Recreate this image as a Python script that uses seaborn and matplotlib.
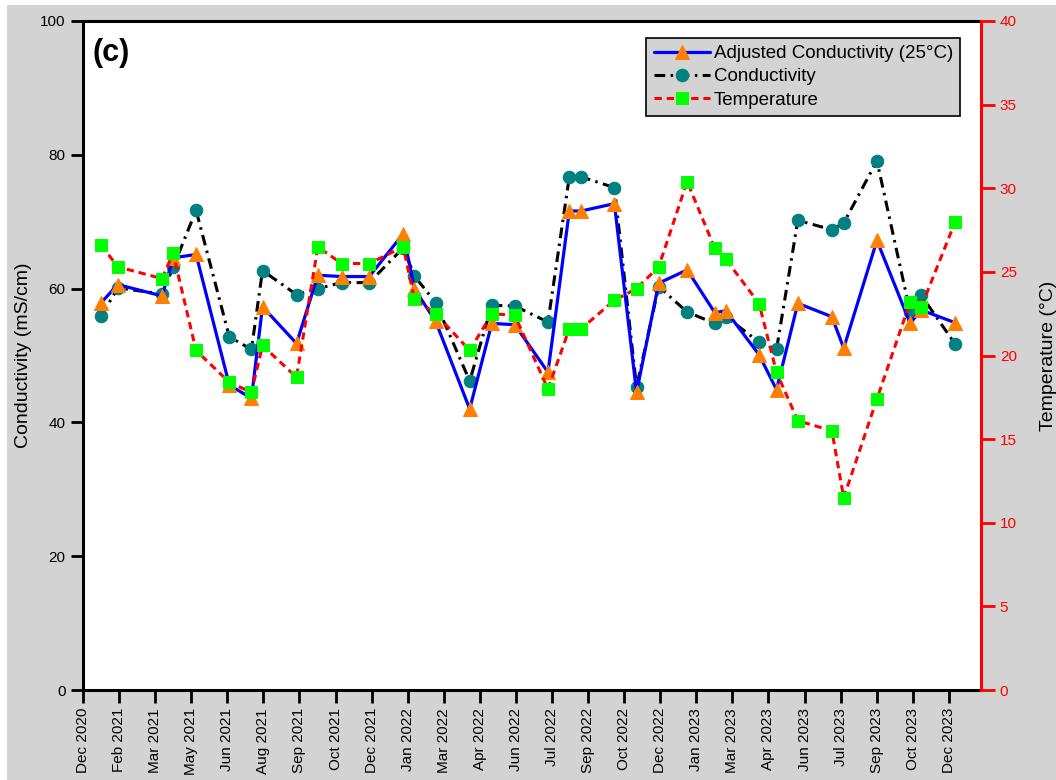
import numpy as np
import pandas as pd
import seaborn as sns
import matplotlib.pyplot as plt
import matplotlib.dates as mdates
from matplotlib.patches import Rectangle

# sampling dates
dates = ["2020-12-24", "2021-01-14", "2021-03-11", "2021-03-25", "2021-04-23", "2021-06-04",
         "2021-07-02", "2021-07-16", "2021-08-28", "2021-09-24", "2021-10-24", "2021-11-28",
         "2022-01-10", "2022-01-24", "2022-02-20", "2022-04-04", "2022-05-02", "2022-05-31",
         "2022-07-12", "2022-08-08", "2022-08-23", "2022-10-04", "2022-11-01", "2022-11-29",
         "2023-01-04", "2023-02-08", "2023-02-22", "2023-04-05", "2023-04-27", "2023-05-24",
         "2023-07-06", "2023-07-21", "2023-09-01", "2023-10-13", "2023-10-27", "2023-12-09"]

adj_cond = [57.9, 60.6, 58.9, 64.6, 65.1, 45.6, 43.6, 57.3, 51.8, 62.0, 61.8, 61.8,
            68.2, 60.0, 55.1, 42.0, 54.8, 54.6, 47.5, 71.6, 71.6, 72.7, 44.5, 60.8,
            62.8, 56.4, 56.7, 50.1, 44.9, 57.8, 55.8, 51.1, 67.2, 54.8, 56.8, 54.9]

cond = [55.9, 60.1, 59.2, 63.2, 71.7, 52.8, 50.9, 62.7, 59.1, 60.0, 60.9, 60.9,
        66.1, 61.9, 57.9, 46.2, 57.5, 57.4, 55.0, 76.7, 76.7, 75.1, 45.3, 60.3,
        56.5, 54.8, 55.8, 52.0, 50.9, 70.2, 68.8, 69.8, 79.1, 56.5, 59.0, 51.7]

temp = [26.6, 25.3, 24.6, 26.1, 20.3, 18.4, 17.8, 20.6, 18.7, 26.5, 25.5, 25.5,
        26.5, 23.4, 22.5, 20.3, 22.5, 22.4, 18.0, 21.6, 21.6, 23.3, 24.0, 25.3,
        30.4, 26.4, 25.75, 23.1, 19.0, 16.1, 15.5, 11.5, 17.4, 23.2, 22.9, 28.0]

tick_labels = ["Dec 2020", "Feb 2021", "Mar 2021", "May 2021", "Jun 2021", "Aug 2021",
               "Sep 2021", "Oct 2021", "Dec 2021", "Jan 2022", "Mar 2022", "Apr 2022",
               "Jun 2022", "Jul 2022", "Sep 2022", "Oct 2022", "Dec 2022", "Jan 2023",
               "Mar 2023", "Apr 2023", "Jun 2023", "Jul 2023", "Sep 2023", "Oct 2023",
               "Dec 2023"]

df = pd.DataFrame({"date": pd.to_datetime(dates), "adj": adj_cond, "cond": cond, "temp": temp})

sns.set_theme(style="ticks", rc={"text.color": "black", "axes.labelcolor": "black",
                                 "xtick.color": "black", "ytick.color": "black"})
plt.rcParams["font.family"] = ["Liberation Sans", "DejaVu Sans"]

fig = plt.figure(figsize=(10.56, 7.8), dpi=100, facecolor="white")
fig.patches.append(Rectangle((7 / 1056, 0), 1, 1 - 5 / 780, transform=fig.transFigure,
                             facecolor="#d3d3d3", edgecolor="none", zorder=-10))
ax = fig.add_axes([83 / 1056, 90 / 780, 898 / 1056, 669 / 780])
ax.set_facecolor("white")

sns.lineplot(data=df, x="date", y="cond", ax=ax, sort=False, color="black", lw=2.2,
             ls=(0, (3.5, 1.8, 0.8, 1.8)), marker="o", markersize=9,
             markerfacecolor="#008080", markeredgecolor="#008080",
             label="Conductivity", zorder=2)
sns.lineplot(data=df, x="date", y="adj", ax=ax, sort=False, color="#0000ff", lw=2.3,
             marker="^", markersize=10.5, markerfacecolor="#ff8000",
             markeredgecolor="#ff8000", label="Adjusted Conductivity (25°C)", zorder=3)

ax2 = ax.twinx()
sns.lineplot(data=df, x="date", y="temp", ax=ax2, sort=False, color="#ff0000", lw=2.2,
             ls=(0, (2.4, 1.6)), marker="s", markersize=8,
             markerfacecolor="#00ff00", markeredgecolor="#00ff00",
             label="Temperature", zorder=3)

start = pd.Timestamp("2020-12-01")
step = pd.Timedelta(days=1095 / 24)
ticks = [start + i * step for i in range(len(tick_labels))]
ax.set_xlim(start, start + step * 24.89)
ax.set_xticks(ticks)
ax.set_xticklabels(tick_labels, rotation=90, fontsize=11)

ax.set_ylim(0, 100)
ax.set_yticks(range(0, 101, 20))
ax.tick_params(axis="y", labelsize=11, length=9, width=2, direction="out")
ax.tick_params(axis="x", length=9, width=2, direction="out", pad=4)
ax.set_xlabel("")
ax.set_ylabel("Conductivity (mS/cm)", fontsize=14, labelpad=6)

ax2.set_ylim(0, 40)
ax2.set_yticks(range(0, 41, 5))
ax2.tick_params(axis="y", colors="#ff0000", labelsize=11, length=10, width=2)
ax2.set_ylabel("Temperature (°C)", fontsize=14, color="black", labelpad=17)
ax2.set_xlabel("")

for s in ["left", "top", "bottom"]:
    ax.spines[s].set_linewidth(2.2)
    ax.spines[s].set_color("black")
ax.spines["right"].set_visible(False)
for s in ["left", "top", "bottom"]:
    ax2.spines[s].set_visible(False)
ax2.spines["right"].set_linewidth(2.2)
ax2.spines["right"].set_color("#ff0000")

h1, l1 = ax.get_legend_handles_labels()
h2, l2 = ax2.get_legend_handles_labels()
ax.get_legend().remove()
ax2.get_legend().remove()
leg = ax2.legend([h1[1], h1[0], h2[0]], [l1[1], l1[0], l2[0]], loc="upper right",
                 bbox_to_anchor=(0.977, 0.975), fontsize=13.5, frameon=True,
                 fancybox=False, facecolor="#d3d3d3", edgecolor="black",
                 handlelength=3.0, handletextpad=0.2, borderpad=0.4, labelspacing=0.32,
                 borderaxespad=0)
leg.get_frame().set_linewidth(1.2)
leg.get_frame().set_alpha(1)

ax.text(0.011, 0.975, "(c)", transform=ax.transAxes, fontsize=22, fontweight="bold",
        va="top", ha="left")

fig.savefig("out.png", dpi=100, facecolor=fig.get_facecolor())
